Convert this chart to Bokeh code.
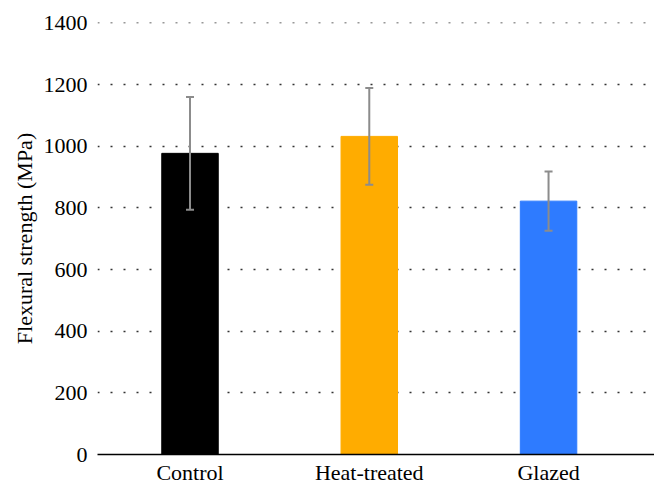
from bokeh.plotting import figure
from bokeh.models import ColumnDataSource, Range1d, Whisker, TeeHead, FixedTicker
from bokeh.embed import file_html
from bokeh.resources import INLINE

categories = ["Control", "Heat-treated", "Glazed"]
means = [977, 1032, 822]
sds = [183, 157, 96]
colors = ["#000000", "#FFAC00", "#2E7BFF"]
y_ticks = [0, 200, 400, 600, 800, 1000, 1200, 1400]

xs = list(range(len(categories)))
src = ColumnDataSource(dict(
    x=xs, top=means, color=colors,
    upper=[m + s for m, s in zip(means, sds)],
    lower=[m - s for m, s in zip(means, sds)],
))

p = figure(frame_width=557, frame_height=432, output_backend="svg", toolbar_location=None,
           x_range=Range1d(-0.516, 2.591), y_range=Range1d(0, 1401.5),
           min_border_left=97, min_border_top=22, min_border_right=0, min_border_bottom=40)
p.outline_line_color = None
p.background_fill_color = "white"
p.border_fill_color = "white"

p.vbar(x="x", top="top", width=0.315, color="color", source=src)

w = Whisker(base="x", upper="upper", lower="lower", source=src, level="overlay",
            line_color="#8c8c8c", line_width=2,
            upper_head=TeeHead(size=8, line_color="#8c8c8c", line_width=2),
            lower_head=TeeHead(size=8, line_color="#8c8c8c", line_width=2))
p.add_layout(w)

font = "Liberation Serif"
# x axis
p.xaxis.ticker = FixedTicker(ticks=xs)
p.xaxis.major_label_overrides = {i: c for i, c in enumerate(categories)}
p.xaxis.major_tick_line_color = None
p.xaxis.major_tick_out = 0
p.xaxis.minor_tick_line_color = None
p.xaxis.axis_line_color = "#000000"
p.xaxis.axis_line_width = 1.5
p.xaxis.major_label_text_font = font
p.xaxis.major_label_text_font_size = "22px"
p.xaxis.major_label_text_color = "#000000"
p.xaxis.major_label_standoff = 5

# y axis
p.yaxis.ticker = FixedTicker(ticks=y_ticks)
p.yaxis.axis_line_color = None
p.yaxis.major_tick_line_color = None
p.yaxis.major_tick_out = 0
p.yaxis.minor_tick_line_color = None
p.yaxis.major_label_text_font = font
p.yaxis.major_label_text_font_size = "22px"
p.yaxis.major_label_text_color = "#000000"
p.yaxis.major_label_standoff = 10
p.yaxis.axis_label = "Flexural strength (MPa)"
p.yaxis.axis_label_text_font = font
p.yaxis.axis_label_text_font_size = "22px"
p.yaxis.axis_label_text_font_style = "normal"
p.yaxis.axis_label_text_color = "#000000"
p.yaxis.axis_label_standoff = 4

p.xgrid.grid_line_color = None
p.ygrid.grid_line_color = "#333333"
p.ygrid.grid_line_dash = "2 11"
p.ygrid.grid_line_width = 1.5

open("out.html", "w").write(file_html(p, INLINE))
